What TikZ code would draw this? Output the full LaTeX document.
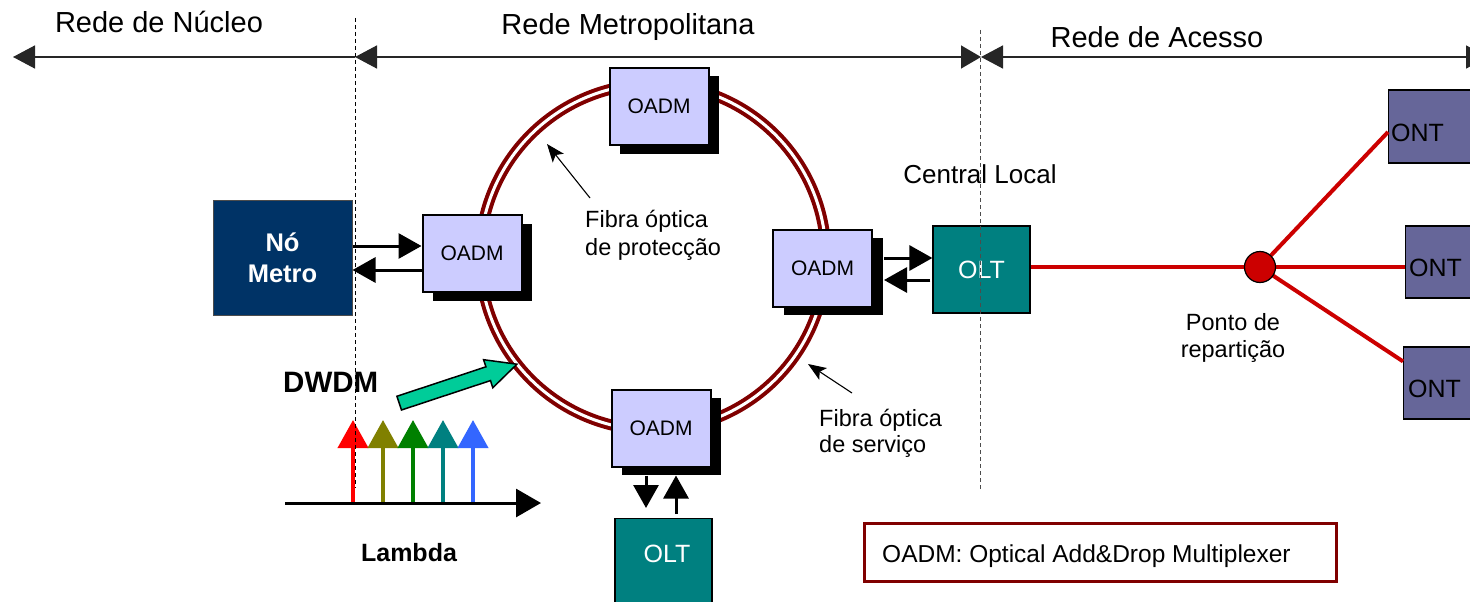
\documentclass[tikz,border=0pt]{standalone}
\usepackage{fontspec}
\setmainfont{Liberation Sans}
\usetikzlibrary{arrows.meta,shapes.arrows,shadows,calc}

\definecolor{ringred}{HTML}{800000}
\definecolor{oadmfill}{HTML}{CCCCFF}
\definecolor{metroblue}{HTML}{003366}
\definecolor{oltteal}{HTML}{008080}
\definecolor{ontblue}{HTML}{666699}
\definecolor{fibrered}{HTML}{CC0000}
\definecolor{dwdmgreen}{HTML}{00CC99}
\definecolor{lamred}{HTML}{FF0000}
\definecolor{lamolive}{HTML}{808000}
\definecolor{lamgreen}{HTML}{008000}
\definecolor{lamteal}{HTML}{008080}
\definecolor{lamblue}{HTML}{3366FF}

\begin{document}
\begin{tikzpicture}[x=1pt,y=-1pt,
  lbl/.style={inner sep=0pt, anchor=base},
  big/.style={font=\fontsize{29}{34}\selectfont},
  mid/.style={font=\fontsize{23.5}{28}\selectfont},
  oadm/.style={draw=black, line width=2pt, fill=oadmfill, minimum width=99pt,
    minimum height=77pt, inner sep=0pt, font=\fontsize{21}{25}\selectfont,
    general shadow={fill=black, shadow xshift=10.5pt, shadow yshift=-8.5pt}},
  oltbox/.style={draw=black, line width=1.2pt, fill=oltteal, minimum width=97pt,
    inner sep=0pt, text=white, font=\fontsize{25}{30}\selectfont},
  ontbox/.style={draw=black, line width=1.2pt, fill=ontblue, minimum width=100pt,
    minimum height=72pt, inner sep=0pt, anchor=west},
  onttext/.style={inner sep=0pt, anchor=base west, font=\fontsize{25}{30}\selectfont},
  conn/.style={line width=3pt, -{Triangle[length=23pt,width=25pt]}},
  fibre/.style={draw=fibrered, line width=4pt},
  notearrow/.style={line width=1.1pt, -{Stealth[length=18pt,width=14pt,inset=4pt]}},
  topaxis/.style={line width=1.5pt, black!85},
  divider/.style={dash pattern=on 4pt off 3pt, line width=1pt},
  lambdaarrow/.style={line width=4pt, -{Triangle[length=28pt,width=30pt]}},
]
\useasboundingbox (0,0) rectangle (1470,602);
\clip (0,0) rectangle (1470,602);

% network extent axis
\draw[topaxis, -{Triangle[length=22pt,width=23pt]}] (355,57) -- (13,57);
\draw[topaxis, {Triangle[length=22pt,width=23pt]}-{Triangle[length=20pt,width=23pt]}] (355,57) -- (981,57);
\draw[topaxis, {Triangle[length=22pt,width=23pt]}-{Triangle[length=22pt,width=23pt]}] (981,57) -- (1488,57);
\node[lbl, big] (core) at (159,33) {Rede de Núcleo};
\node[lbl, big] (metro) at (628,35) {Rede Metropolitana};
\node[lbl, big] (access) at (1157,48) {Rede de Acesso};

% metro fibre ring
\coordinate (ringc) at (653,257);
\draw[draw=ringred, line width=4pt, double=white, double distance=3pt] (ringc) circle[radius=173];

% DWDM spectrum
\coordinate (lamL) at (285,503);
\coordinate (lamR) at (541,503);
\draw[lambdaarrow, lamred]   (353,503) -- (353,420);
\draw[lambdaarrow, lamolive] (383,503) -- (383,420);
\draw[lambdaarrow, lamgreen] (413,503) -- (413,420);
\draw[lambdaarrow, lamteal]  (443,503) -- (443,420);
\draw[lambdaarrow, lamblue]  (473,503) -- (473,420);
\draw[line width=3pt, -{Triangle[length=25pt,width=28pt]}] (lamL) -- (lamR);
\node[lbl, font=\bfseries\fontsize{25}{30}\selectfont] (lambda) at (409,561) {Lambda};
\node[lbl, anchor=base west, font=\bfseries\fontsize{29.5}{34}\selectfont] (dwdm) at (283,392) {DWDM};
\node[single arrow, draw=black, line width=1.5pt, fill=dwdmgreen, inner sep=0pt,
  inner ysep=6.5pt, minimum height=124pt, single arrow head extend=7.5pt,
  single arrow tip angle=52, single arrow head indent=0pt, rotate=18.3]
  (dwdmarrow) at (451,386) {};

% add/drop multiplexers
\node[oadm] (oadmT) at (659,106.5) {OADM};
\node[oadm] (oadmL) at (472,253.5) {OADM};
\node[oadm] (oadmR) at (822.5,268) {OADM};
\node[oadm] (oadmB) at (661,428) {OADM};

% metro node
\node[draw=black!70, line width=1pt, fill=metroblue, minimum width=139pt,
  minimum height=115pt, text=white, align=center,
  font=\bfseries\fontsize{25.5}{31}\selectfont] (nometro) at (282.5,257.5) {Nó\\Metro};

% line terminals
\node[oltbox, minimum height=87pt] (oltR) at (981.5,269.5) {OLT};
\node[oltbox, minimum height=100pt, anchor=north] (oltB) at (663.5,518) {};
\node[lbl, text=white, font=\fontsize{25}{30}\selectfont] (oltBtext) at (667,562) {OLT};
\node[lbl, font=\fontsize{26}{31}\selectfont] (central) at (980,183) {Central Local};

% client links
\draw[conn] ([yshift=11.5pt]nometro.east) -- ([yshift=7.5pt]oadmL.west);
\draw[conn] ([yshift=-16.5pt]oadmL.west) -- ([yshift=-12.5pt]nometro.east);
\draw[conn] ([xshift=11pt,yshift=10pt]oadmR.east) -- ([yshift=11.5pt]oltR.west);
\draw[conn] ([xshift=-2pt,yshift=-10.5pt]oltR.west) -- ([xshift=11pt,yshift=-12pt]oadmR.east);
\draw[conn] ([xshift=-15pt,yshift=-8pt]oadmB.south) -- ([xshift=-17.5pt,yshift=10pt]oltB.north);
\draw[conn] ([xshift=12.5pt,yshift=4pt]oltB.north) -- ([xshift=15pt,yshift=-8pt]oadmB.south);

% access tree
\node[ontbox, minimum height=73pt] (ontT) at (1388,126.5) {};
\node[ontbox] (ontM) at (1405,262) {};
\node[ontbox] (ontB) at (1403,383) {};
\node[onttext] (ontTtext) at (1391,141) {ONT};
\node[onttext] (ontMtext) at (1409,276) {ONT};
\node[onttext] (ontBtext) at (1408,397) {ONT};
\coordinate (splitc) at (1260,267);
\draw[fibre] (oltR.east |- splitc) -- (splitc);
\draw[fibre] (splitc) -- ([yshift=-5.5pt]ontT.west);
\draw[fibre] (splitc) -- (splitc -| ontM.west);
\draw[fibre] (splitc) -- ([yshift=-15pt]ontB.north west);
\node[circle, draw=black, line width=1.2pt, fill=fibrered, minimum size=31pt, inner sep=0pt] (split) at (splitc) {};
\node[lbl, mid] (ponto1) at (1233,330) {Ponto de};
\node[lbl, mid] (ponto2) at (1233,357) {repartição};

% fibre annotations
\node[lbl, mid, anchor=base west] (prot1) at (585,227) {Fibra óptica};
\node[lbl, mid, anchor=base west] (prot2) at (585,255) {de protecção};
\coordinate (protTail) at (590,198);
\coordinate (protTip) at (547,144);
\draw[notearrow] (protTail) -- (protTip);
\node[lbl, mid, anchor=base west] (serv1) at (819,426) {Fibra óptica};
\node[lbl, mid, anchor=base west] (serv2) at (819,452) {de serviço};
\coordinate (servTail) at (852,393);
\coordinate (servTip) at (808,364);
\draw[notearrow] (servTail) -- (servTip);

% legend
\node[draw=ringred, line width=3pt, minimum width=472pt, minimum height=58pt,
  inner sep=0pt, anchor=north west] (legend) at (863,522) {};
\node[lbl, anchor=base west, font=\fontsize{24.5}{30}\selectfont] (legendtext)
  at (882,562) {OADM: Optical Add\&Drop Multiplexer};

% domain boundaries
\draw[divider, black] (355,18) -- (355,488);
\draw[divider, black!70] (980,30) -- (980,490);
\end{tikzpicture}
\end{document}
